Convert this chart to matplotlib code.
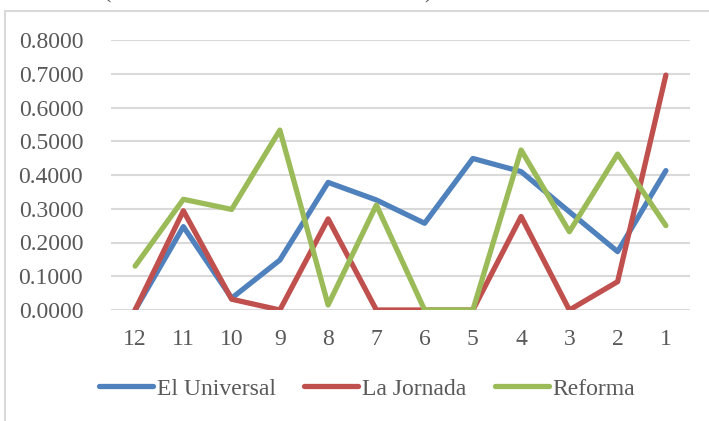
import matplotlib.pyplot as plt
from matplotlib.patches import Rectangle

plt.rcParams['font.family'] = ['Liberation Serif', 'DejaVu Serif']

categories = ['12', '11', '10', '9', '8', '7', '6', '5', '4', '3', '2', '1']
el_universal = [0.000, 0.247, 0.035, 0.148, 0.378, 0.326, 0.257, 0.449, 0.410, 0.291, 0.173, 0.413]
la_jornada = [0.000, 0.294, 0.032, 0.000, 0.270, 0.000, 0.000, 0.000, 0.277, 0.000, 0.084, 0.696]
reforma = [0.130, 0.328, 0.298, 0.533, 0.015, 0.311, 0.000, 0.000, 0.474, 0.232, 0.462, 0.250]
yticks = [0.0, 0.1, 0.2, 0.3, 0.4, 0.5, 0.6, 0.7, 0.8]

W, H = 709, 421
fig = plt.figure(figsize=(W / 100, H / 100), dpi=100)

# chart frame (only top and left edges are visible in the crop)
fig.patches.append(Rectangle((5 / W, -0.1), 1.2, 1 - 11 / H + 0.1, transform=fig.transFigure,
                             fill=False, edgecolor='#D9D9D9', linewidth=1.5))
# cut-off title fragments
fig.text(107 / W, 1 + 2 / H, '(', fontsize=18, color='#595959', va='baseline', ha='center')
fig.text(428 / W, 1 + 2 / H, ')', fontsize=18, color='#595959', va='baseline', ha='center')

ax = fig.add_axes([111 / W, 1 - 310 / H, 579 / W, 270 / H])
x = range(len(categories))
ax.plot(x, el_universal, color='#4F81BD', lw=3.8, label='El Universal', solid_capstyle='round', solid_joinstyle='round')
ax.plot(x, la_jornada, color='#C0504D', lw=3.8, label='La Jornada', solid_capstyle='round', solid_joinstyle='round')
ax.plot(x, reforma, color='#9BBB59', lw=3.8, label='Reforma', solid_capstyle='round', solid_joinstyle='round')

ax.set_xlim(-0.5, len(categories) - 0.5)
ax.set_ylim(0, 0.8)
ax.set_yticks(yticks)
ax.set_yticklabels([f'{v:.4f}' for v in yticks])
ax.set_xticks(list(x))
ax.set_xticklabels(categories)
ax.grid(axis='y', color='#D9D9D9', linewidth=1.5)
ax.set_axisbelow(True)
for s in ax.spines.values():
    s.set_visible(False)
ax.tick_params(axis='both', length=0, labelsize=17, labelcolor='#595959')
ax.tick_params(axis='x', pad=14)
ax.tick_params(axis='y', pad=20)

fig.legend(loc='center', bbox_to_anchor=(367 / W, 1 - 389 / H), ncol=3, frameon=False,
           fontsize=17, labelcolor='#595959', handlelength=2.3, handletextpad=0.15,
           columnspacing=1.2)

fig.savefig('out.png', dpi=100)
